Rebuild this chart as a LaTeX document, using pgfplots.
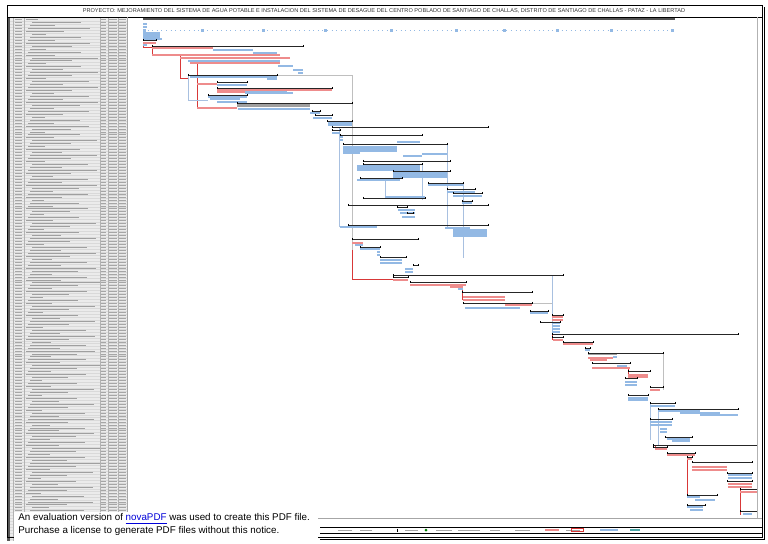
\documentclass[border=0pt]{standalone}
\usepackage{pgfplots}
\pgfplotsset{compat=1.18}
\usepackage{pgfplotstable}
\usepackage{fontspec}
\setmainfont{Liberation Sans}
\definecolor{crit}{HTML}{EE8C8C}
\definecolor{critdk}{HTML}{D83838}
\definecolor{task}{HTML}{93B9E4}
\definecolor{taskdk}{HTML}{4F81BD}
\definecolor{lnk}{HTML}{A8C0E0}

\pgfplotstableread{
s e y
143 156 40
152 303 46
188 277 75
217 247 82
217 332 88
208 247 95
237 352 103
312 320 111
315 332 115
327 352 121
332 488 127
332 340 130
340 422 135
343 447 144
363 450 161
363 422 164
393 450 171
360 402 178
428 463 183
447 475 189
453 482 193
363 425 198
462 472 201
348 488 205
397 407 207
407 413 213
348 488 225
352 418 239
360 380 247
380 406 257
413 418 265
393 563 275
393 408 277
410 466 282
462 532 292
463 532 303
530 548 311
552 563 315
540 560 322
552 738 334
552 563 337
563 593 342
585 590 348
588 663 353
592 630 363
628 650 371
625 637 378
650 663 387
628 648 395
650 675 403
658 738 409
650 672 419
665 692 437
653 757 445
653 667 447
667 695 453
687 692 457
692 752 462
727 752 473
727 752 481
740 757 489
687 717 495
687 705 505
740 757 511
}\summ

\pgfplotstableread{
s e y
143 156 43
152 213 48
152 280 55
180 290 58
190 280 63
197 217 84
217 332 90
217 245 92
197 237 108
352 363 243
393 408 280
410 466 285
450 463 287
463 505 297
463 505 300
505 532 305
552 563 317
552 563 320
553 563 340
563 593 344
588 613 358
590 607 360
592 630 368
628 648 375
628 648 377
650 660 390
655 667 449
667 695 455
687 692 459
692 727 467
692 727 470
728 752 484
728 752 487
740 757 492
}\crit

\pgfplotstableread{
s e y
143 147 24
143 147 27
143 160 33
143 160 35
143 160 37
143 162 39
143 147 45
213 253 50
253 277 53
253 277 55
188 280 61
278 293 66
293 303 70
298 303 73
190 277 77
267 277 79
217 247 85
245 287 91
245 293 93
208 247 97
210 240 99
217 247 102
238 310 109
310 320 113
313 332 118
328 352 123
328 352 125
332 340 133
340 343 137
340 343 140
343 397 147
343 397 149
343 397 151
343 360 153
397 420 142
422 447 154
403 422 156
357 420 166
357 420 168
357 420 170
393 447 173
393 447 175
393 447 177
357 400 180
428 463 185
447 475 192
453 482 196
385 425 197
462 472 203
398 415 210
400 415 213
402 415 217
340 377 227
445 470 228
453 487 230
453 487 232
453 487 234
453 487 236
355 363 245
360 380 249
377 380 252
377 380 255
380 402 260
380 402 263
405 413 269
405 413 272
458 463 289
465 520 308
530 548 313
552 560 323
552 560 326
552 560 329
552 560 332
585 590 350
613 617 357
617 627 366
625 637 382
625 637 385
628 648 398
628 648 400
650 675 406
658 700 411
680 720 413
700 738 415
650 672 422
650 672 425
660 667 429
660 667 432
667 690 439
672 690 441
728 752 475
728 752 478
687 700 497
695 715 500
687 703 507
690 703 510
743 752 514
}\task

\pgfplotstableread{
xa ya xb yb
143 43 143 47
143 47 152 47
152 47 152 55
180 55 180 78
180 78 188 78
197 63 197 108
352 240 352 279
352 279 393 279
462 285 462 300
552 317 552 340
628 368 628 375
655 445 655 449
687 459 687 497
740 487 740 515
}\rlink

\pgfplotstableread{
xa ya xb yb
188 75 188 100
188 100 208 100
339 127 339 227
447 144 447 228
385 178 385 197
650 403 650 440
658 409 658 445
552 275 552 335
422 164 422 200
463 183 463 258
}\blink

\pgfplotstableread{
xa ya xb yb
277 75 352 75
352 75 352 250
352 205 352 225
532 303 552 303
663 353 663 390
}\glink

\begin{document}
\begin{tikzpicture}
\fill[white] (0,0) rectangle (384pt,271.5pt);
% left table
\begin{scope}[x=0.5pt, y=-0.5pt, yshift=271.5pt]
\fill[gray!16] (7,18) rectangle (127,541);
\foreach \i in {0,...,175}{
  \pgfmathsetmacro\yy{19.5+\i*2.96}
  \pgfmathsetmacro\L{12+mod(\i*37,61)}
  \pgfmathsetmacro\ind{26+2*mod(\i*7,4)}
  \draw[gray!30, line width=0.15pt] (7,\yy+1.48) -- (127,\yy+1.48);
  \draw[gray!75, line width=0.45pt] (\ind,\yy) -- (\ind+\L,\yy);
  \draw[gray!70, line width=0.45pt] (15,\yy) -- (22,\yy);
  \draw[gray!70, line width=0.45pt] (101,\yy) -- (106,\yy);
  \draw[gray!70, line width=0.45pt] (109,\yy) -- (117,\yy);
  \draw[gray!70, line width=0.45pt] (119,\yy) -- (126,\yy);
}
\foreach \xx in {13,24,100,108,118}{\draw[gray!60, line width=0.2pt] (\xx,18) -- (\xx,541);}
\fill[gray!70!black] (7,18) rectangle (10,541);
\end{scope}
\begin{axis}[at={(0,0)}, anchor=south west, scale only axis,
  width=384pt, height=271.5pt, xmin=0, xmax=768, ymin=0, ymax=543,
  y dir=reverse, hide axis, clip=false]
% links
\addplot[critdk, line width=0.3pt, quiver={u=\thisrow{xb}-\thisrow{xa}, v=\thisrow{yb}-\thisrow{ya}}] table[x=xa, y=ya] {\rlink};
\addplot[lnk, line width=0.3pt, quiver={u=\thisrow{xb}-\thisrow{xa}, v=\thisrow{yb}-\thisrow{ya}}] table[x=xa, y=ya] {\blink};
\addplot[gray!50, line width=0.3pt, quiver={u=\thisrow{xb}-\thisrow{xa}, v=\thisrow{yb}-\thisrow{ya}}] table[x=xa, y=ya] {\glink};
% project row and milestones
\addplot[gray!65!black, line width=1pt] coordinates {(143,19) (675,19)};
\addplot[task, dotted, line width=0.3pt] coordinates {(143,30) (675,30)};
\addplot[only marks, mark=square*, mark size=0.45pt, color=task] coordinates {(144,30) (202,30) (263,30) (325,30) (391,30) (456,30) (504,30) (557,30) (611,30) (672,30)};
% gray heavy summaries
\addplot[gray!75, line width=1.6pt] coordinates {(237,105) (310,105)};
\addplot[gray!75, line width=1.2pt] coordinates {(588,354) (617,354)};
% tasks
\addplot[task, line width=0.9pt, quiver={u=\thisrow{e}-\thisrow{s}, v=0}] table[x=s, y=y] {\task};
\addplot[crit, line width=1pt, quiver={u=\thisrow{e}-\thisrow{s}, v=0}] table[x=s, y=y] {\crit};
% summaries
\addplot[black!85, line width=0.45pt, quiver={u=\thisrow{e}-\thisrow{s}, v=0}] table[x=s, y=y] {\summ};
\addplot[only marks, mark=|, mark size=0.6pt, black, mark options={line width=0.4pt}] table[x=s, y=y] {\summ};
\addplot[only marks, mark=|, mark size=0.6pt, black, mark options={line width=0.4pt}] table[x=e, y=y] {\summ};
\end{axis}
\begin{scope}[x=0.5pt, y=-0.5pt, yshift=271.5pt]
% frames
\draw[black, line width=0.5pt] (7,5) rectangle (762,537);
\draw[black, line width=0.4pt] (7,17) -- (762,17);
\draw[gray!70, line width=0.3pt] (127,17) -- (127,518);
\draw[gray!60, line width=0.3pt] (757,17) -- (757,518);
\draw[gray!70, line width=0.3pt] (127,518) -- (762,518);
\draw[black, line width=0.4pt] (320,527) -- (762,527);
\draw[black, line width=0.4pt] (320,533) -- (762,533);
\draw[black, line width=0.4pt] (764,7) -- (764,539) -- (320,539);
\node[font=\fontsize{2.8pt}{3pt}\selectfont, inner sep=0pt, text=black!80] at (384,11) {PROYECTO: MEJORAMIENTO DEL SISTEMA DE AGUA POTABLE E INSTALACION DEL SISTEMA DE DESAGUE DEL CENTRO POBLADO DE SANTIAGO DE CHALLAS, DISTRITO DE SANTIAGO DE CHALLAS - PATAZ - LA LIBERTAD};
% legend strip
\draw[black, line width=0.5pt] (397,528.5) -- (397,531.5);
\fill[green!50!black] (426,528.5) -- (427.5,530) -- (426,531.5) -- (424.5,530) -- cycle;
\foreach \a/\b in {338/352,360/372,405/418,436/452,458/480,490/500,515/530,566/580}{\draw[gray!70, line width=0.4pt] (\a,530) -- (\b,530);}
\fill[crit] (545,529) rectangle (559,531);
\draw[critdk, line width=0.3pt] (571,528.5) rectangle (583,531.5);
\fill[task] (600,529) rectangle (618,531);
\fill[teal!70] (630,529) rectangle (640,531);
% notice
\fill[white] (14,512) rectangle (318,541);
\node[anchor=west, font=\fontsize{4.9pt}{5pt}\selectfont, inner sep=0pt] at (18,519) {An evaluation version of \textcolor{blue!85!black}{\underline{novaPDF}} was used to create this PDF file.};
\node[anchor=west, font=\fontsize{4.9pt}{5pt}\selectfont, inner sep=0pt] at (18,531) {Purchase a license to generate PDF files without this notice.};
\end{scope}
\end{tikzpicture}
\end{document}
